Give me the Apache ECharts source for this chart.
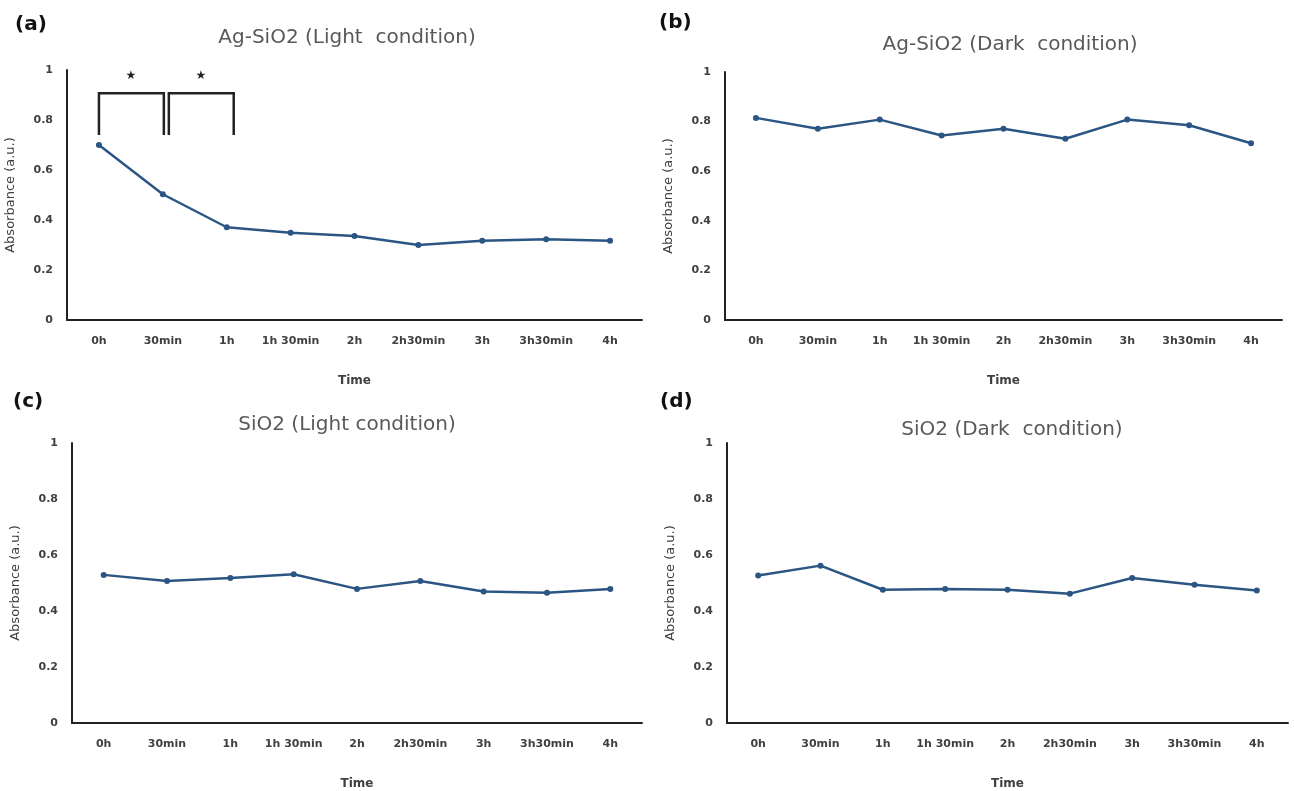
<!DOCTYPE html>
<html>
<head>
<meta charset="utf-8">
<script src="https://cdn.jsdelivr.net/npm/echarts@6/dist/echarts.min.js"></script>
<style>
html,body{margin:0;padding:0;background:#fff;}
#main{width:1294px;height:791px;}
</style>
</head>
<body>
<div id="main"></div>
<script>
// 数据
var times = ['0h', '30min', '1h', '1h 30min', '2h', '2h30min', '3h', '3h30min', '4h'];
var agLight = [0.70, 0.503, 0.371, 0.349, 0.336, 0.300, 0.317, 0.323, 0.317];
var agDark = [0.815, 0.771, 0.808, 0.744, 0.771, 0.731, 0.808, 0.785, 0.713];
var sioLight = [0.529, 0.507, 0.518, 0.531, 0.479, 0.507, 0.470, 0.465, 0.479];
var sioDark = [0.527, 0.562, 0.476, 0.479, 0.476, 0.462, 0.518, 0.494, 0.473];
var yTicks = [0, 0.2, 0.4, 0.6, 0.8, 1];
// 显著性括号: [起点, 终点, 底, 顶, 星号高度]
var brackets = [[0, 1, 0.74, 0.907, 0.976], [1, 2, 0.74, 0.907, 0.976]];

var titles = ['Ag-SiO2 (Light  condition)', 'Ag-SiO2 (Dark  condition)', 'SiO2 (Light condition)', 'SiO2 (Dark  condition)'];
var panels = ['(a)', '(b)', '(c)', '(d)'];
var allData = [agLight, agDark, sioLight, sioDark];

var myChart = echarts.init(document.getElementById('main'));

var grids = [
    {left: 67, width: 575, top: 70, height: 250},
    {left: 725, width: 557, top: 72, height: 248},
    {left: 72, width: 570, top: 443, height: 281},
    {left: 727, width: 561, top: 443, height: 284}
];
var titlePos = [[342, 23], [1005, 30], [342, 410], [1007, 415]];
var panelPos = [[10, 10], [654, 8], [8, 387], [655, 387]];

var fontFam = '"DejaVu Sans", sans-serif';
var xAxes = [], yAxes = [], series = [], titleList = [];

for (var i = 0; i < 4; i++) {
    titleList.push({
        text: titles[i],
        left: titlePos[i][0],
        top: titlePos[i][1],
        textAlign: 'center',
        textStyle: {color: '#595959', fontSize: 20, fontWeight: 'normal', fontFamily: fontFam}
    });
    titleList.push({
        text: panels[i],
        left: panelPos[i][0],
        top: panelPos[i][1],
        textStyle: {color: '#111', fontSize: 20, fontWeight: 'bold', fontFamily: fontFam}
    });
    xAxes.push({
        type: 'category',
        gridIndex: i,
        data: times,
        boundaryGap: true,
        name: 'Time',
        nameLocation: 'middle',
        nameGap: 55,
        nameTextStyle: {color: '#404040', fontSize: 12, fontWeight: 'bold', fontFamily: fontFam},
        axisLine: {lineStyle: {color: '#222', width: 2}},
        axisTick: {show: false},
        axisLabel: {interval: 0, margin: 16, color: '#404040', fontSize: 11, fontWeight: 'bold', fontFamily: fontFam},
        splitLine: {show: false}
    });
    yAxes.push({
        type: 'value',
        gridIndex: i,
        min: yTicks[0],
        max: yTicks[yTicks.length - 1],
        interval: 0.2,
        name: 'Absorbance (a.u.)',
        nameLocation: 'middle',
        nameGap: 50,
        nameTextStyle: {color: '#404040', fontSize: 13, fontFamily: fontFam},
        axisLine: {show: true, lineStyle: {color: '#222', width: 2}},
        axisTick: {show: false},
        axisLabel: {margin: 14, color: '#404040', fontSize: 11, fontWeight: 'bold', fontFamily: fontFam},
        splitLine: {show: false}
    });
    series.push({
        type: 'line',
        xAxisIndex: i,
        yAxisIndex: i,
        data: allData[i],
        symbol: 'circle',
        symbolSize: 6,
        lineStyle: {color: '#2b5583', width: 2.5},
        itemStyle: {color: '#2b5583'}
    });
}

// 括号和星号
series.push({
    type: 'custom',
    xAxisIndex: 0,
    yAxisIndex: 0,
    clip: false,
    data: brackets,
    encode: {x: [0, 1], y: [2, 3, 4]},
    renderItem: function (params, api) {
        var shift = params.dataIndex === 0 ? 0 : 6;
        var p1 = api.coord([api.value(0), api.value(2)]);
        var p2 = api.coord([api.value(0), api.value(3)]);
        var p3 = api.coord([api.value(1), api.value(3)]);
        var p4 = api.coord([api.value(1), api.value(2)]);
        var s = api.coord([api.value(0), api.value(4)]);
        var e = api.coord([api.value(1), api.value(4)]);
        return {
            type: 'group',
            children: [{
                type: 'polyline',
                shape: {points: [[p1[0] + shift, p1[1]], [p2[0] + shift, p2[1]], [p3[0] + shift + 1, p3[1]], [p4[0] + shift + 1, p4[1]]]},
                style: {stroke: '#222', lineWidth: 2.5, fill: null}
            }, {
                type: 'text',
                x: (s[0] + e[0]) / 2 + shift,
                y: s[1],
                style: {text: '★', fill: '#222', fontSize: 12, align: 'center', verticalAlign: 'middle', fontFamily: fontFam}
            }]
        };
    }
});

var option = {
    backgroundColor: '#fff',
    animation: false,
    title: titleList,
    grid: grids,
    xAxis: xAxes,
    yAxis: yAxes,
    series: series
};

myChart.setOption(option);
</script>
</body>
</html>
